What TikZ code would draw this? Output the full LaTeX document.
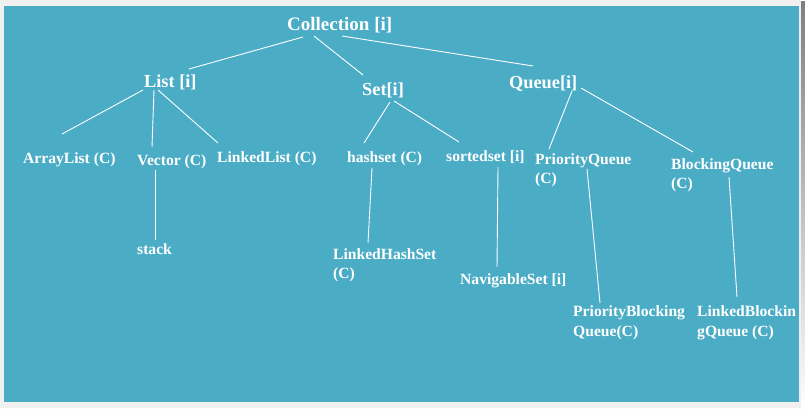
\documentclass[tikz,border=0pt]{standalone}
\usepackage{fontspec}
\setmainfont{Liberation Serif}
\definecolor{panel}{RGB}{75,172,198}
\definecolor{frame}{RGB}{240,240,240}
\definecolor{shade}{RGB}{140,166,176}
\begin{document}
\begin{tikzpicture}[x=1pt,y=-1pt]
\tikzstyle{rootlbl}=[anchor=base west,inner sep=0pt,text=white,font=\fontsize{19}{23}\selectfont\bfseries]
\tikzstyle{midlbl}=[anchor=base west,inner sep=0pt,text=white,font=\fontsize{18.3}{22}\selectfont\bfseries]
\tikzstyle{leaflbl}=[anchor=base west,inner sep=0pt,text=white,align=left,font=\fontsize{15.6}{19.6}\selectfont\bfseries]
\tikzstyle{link}=[white,line width=0.9pt]

\useasboundingbox (0,0) rectangle (805,419);

% frame and panel
\fill[white] (0,0) rectangle (805,419);
\fill[shade] (2,2) rectangle (805,411);
\fill[frame] (0,0) rectangle (801,408);
\fill[panel] (4,6) rectangle (799,402);

% top
\node[rootlbl] (coll) at (287,31) {Collection [i]};

% second level
\node[midlbl] (list) at (144,88) {List [i]};
\node[midlbl] (set) at (362,96) {Set[i]};
\node[midlbl] (queue) at (509,89) {Queue[i]};

% leaves (two-line ones sit on their last line)
\node[leaflbl] (arraylist) at (23,164) {ArrayList (C)};
\node[leaflbl] (vector) at (137,166) {Vector (C)};
\node[leaflbl] (linkedlist) at (217,163) {LinkedList (C)};
\node[leaflbl] (stack) at (137,255) {stack};

\node[leaflbl] (hashset) at (347,163) {hashset (C)};
\node[leaflbl] (sortedset) at (446,162) {sortedset [i]};
\node[leaflbl] (lhs) at (333,279) {LinkedHashSet\\(C)};
\node[leaflbl] (navset) at (460,285) {NavigableSet [i]};

\node[leaflbl] (prioq) at (535,184) {PriorityQueue\\(C)};
\node[leaflbl] (blockq) at (671,189) {BlockingQueue\\(C)};
\node[leaflbl] (pbq) at (573,336) {PriorityBlocking\\Queue(C)};
\node[leaflbl] (lbq) at (697,336) {LinkedBlockin\\gQueue (C)};

% connectors
\draw[link] ([shift={(16,6)}]coll.base west) -- ([shift={(45,-19)}]list.base west);
\draw[link] ([shift={(27,5)}]coll.base west) -- ([shift={(1,-21)}]set.base west);
\draw[link] ([shift={(55,5)}]coll.base west) -- ([shift={(24,-23)}]queue.base west);

\draw[link] ([shift={(-1,2)}]list.base west) -- ([shift={(39,-30)}]arraylist.base west);
\draw[link] ([shift={(10,2)}]list.base west) -- ([shift={(15,-19)}]vector.base west);
\draw[link] ([shift={(14,2)}]list.base west) -- ([shift={(1,-20)}]linkedlist.base west);
\draw[link] ([shift={(18,4)}]vector.base west) -- ([shift={(18,-15)}]stack.base west);

\draw[link] ([shift={(28,6)}]set.base west) -- ([shift={(17,-20)}]hashset.base west);
\draw[link] ([shift={(32,5)}]set.base west) -- ([shift={(13,-20)}]sortedset.base west);
\draw[link] ([shift={(25,5)}]hashset.base west) -- ([shift={(35,-36)}]lhs.base west);
\draw[link] ([shift={(52,5)}]sortedset.base west) -- ([shift={(37,-18)}]navset.base west);

\draw[link] ([shift={(63,2)}]queue.base west) -- ([shift={(14,-35)}]prioq.base west);
\draw[link] ([shift={(72,-1)}]queue.base west) -- ([shift={(22,-37)}]blockq.base west);
\draw[link] ([shift={(52,-15)}]prioq.base west) -- ([shift={(27,-33)}]pbq.base west);
\draw[link] ([shift={(58,-12)}]blockq.base west) -- ([shift={(40,-39)}]lbq.base west);

\end{tikzpicture}
\end{document}
